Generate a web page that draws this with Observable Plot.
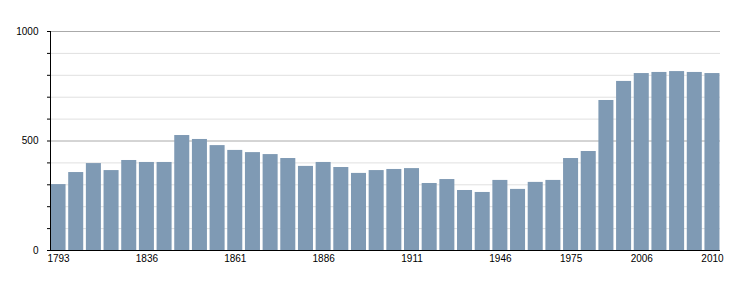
<!DOCTYPE html>
<html>
<head>
<meta charset="utf-8">
<script src="https://cdn.jsdelivr.net/npm/d3@7"></script>
<script src="https://cdn.jsdelivr.net/npm/@observablehq/plot@0.6"></script>
<style>
  html, body { margin: 0; padding: 0; background: #fff; }
  #chart svg { display: block; }
</style>
</head>
<body>
<div id="chart"></div>
<script>
const years = [1793, 1800, 1806, 1821, 1831, 1836, 1841, 1846, 1851, 1856,
  1861, 1866, 1872, 1876, 1881, 1886, 1891, 1896, 1901, 1906,
  1911, 1921, 1926, 1931, 1936, 1946, 1954, 1962, 1968, 1975,
  1982, 1990, 1999, 2006, 2007, 2008, 2009, 2010];
const population = [301, 356, 397, 365, 411, 402, 402, 525, 507, 479,
  457, 447, 438, 420, 384, 402, 379, 352, 365, 370,
  374, 306, 324, 274, 265, 320, 279, 311, 320, 420,
  452, 685, 772, 808, 813, 817, 813, 808];
const labelYears = [1793, 1836, 1861, 1886, 1911, 1946, 1975, 2006, 2010];
const majorTicks = [0, 500, 1000];
const minorTicks = [100, 200, 300, 400, 600, 700, 800, 900];
const allTicks = d3.range(0, 1001, 100);

const data = years.map((y, i) => ({year: String(y), value: population[i]}));

const chart = Plot.plot({
  width: 750,
  height: 300,
  marginLeft: 50,
  marginRight: 30,
  marginTop: 31,
  marginBottom: 50,
  style: {fontFamily: "'Liberation Sans', Arial, sans-serif", fontSize: "10px", color: "#000", background: "#fff"},
  x: {domain: years.map(String), paddingInner: 0.15, paddingOuter: 0.03, round: false},
  y: {domain: [0, 1000]},
  marks: [
    Plot.ruleY(minorTicks, {stroke: "#e0e0e0", strokeWidth: 1}),
    Plot.ruleY(majorTicks, {stroke: "#aaaaaa", strokeWidth: 1}),
    Plot.barY(data, {x: "year", y: "value", fill: "#7f9ab4"}),
    Plot.ruleY([0], {stroke: "#000", strokeWidth: 1}),
    Plot.frame({anchor: "left", stroke: "#000", strokeOpacity: 1}),
    Plot.axisY({ticks: allTicks, tickSize: 3, tickPadding: 9, label: null,
      tickFormat: d => majorTicks.includes(d) ? String(d) : "", stroke: "#000"}),
    Plot.axisX({ticks: labelYears.map(String), tickSize: 0, tickPadding: 4, label: null})
  ]
});
document.getElementById("chart").appendChild(chart);
</script>
</body>
</html>
